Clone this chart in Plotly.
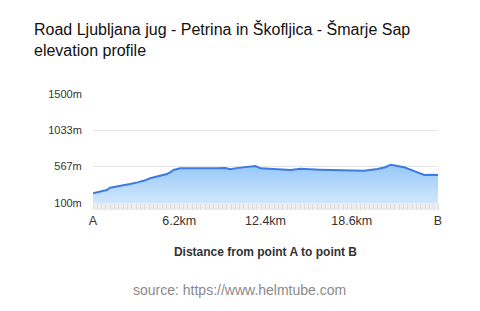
import plotly.graph_objects as go

# distance along the route (km) and elevation (m)
distance_km = [0.0, 0.4, 0.99, 1.23, 1.7, 2.2, 2.67, 3.2, 3.7, 4.11, 4.7, 5.31, 5.6, 5.79, 6.27,
               6.9, 7.48, 8.2, 8.9, 9.5, 9.88, 10.3, 11.08, 11.68, 12.04, 12.8, 13.5, 14.2,
               14.92, 15.6, 16.3, 17.09, 17.8, 18.6, 19.49, 20.45, 21.0, 21.41, 21.9, 22.37,
               23.1, 23.81, 24.3, 24.8]
elevation_m = [225, 240, 267, 296, 310, 327, 344, 365, 388, 417, 445, 472, 500, 524, 545,
               543, 545, 548, 546, 550, 535, 548, 558, 575, 545, 540, 532, 524,
               540, 530, 528, 524, 520, 520, 515, 537, 560, 592, 578, 558,
               510, 460, 463, 460]

ytick_vals = [100, 567, 1033, 1500]
ytick_text = ["100m", "567m", "1033m", "1500m"]
xtick_vals = [0, 6.2, 12.4, 18.6, 24.8]
xtick_text = ["A", "6.2km", "12.4km", "18.6km", "B"]

title_text = "Road Ljubljana jug - Petrina in Škofljica - Šmarje Sap<br>elevation profile"

fig = go.Figure()
fig.add_trace(go.Scatter(
    x=distance_km, y=elevation_m, mode="lines",
    line=dict(color="#3d7be3", width=2),
    fill="tozeroy",
    fillgradient=dict(type="vertical",
                      colorscale=[[0, "#dcedfd"], [1, "#96c8f8"]]),
    hoverinfo="skip",
))

fig.add_shape(type="rect", xref="paper", yref="paper", x0=0, x1=1, y0=-0.065, y1=0,
              fillcolor="#eeeeee", line=dict(width=0), layer="below")

fig.update_layout(
    width=480, height=311,
    margin=dict(l=93, r=42, t=94, b=108),
    paper_bgcolor="white", plot_bgcolor="white",
    font=dict(family="Liberation Sans, Arial, sans-serif", color="#333"),
    showlegend=False,
    xaxis=dict(range=[0, 24.8], tickvals=xtick_vals, ticktext=xtick_text,
               showgrid=False, zeroline=False, showline=False,
               ticks="outside", ticklen=6, tickcolor="#dddddd",
               minor=dict(ticks="outside", dtick=0.31, ticklen=6, tickcolor="#dddddd"),
               tickfont=dict(size=12.5, color="#333"),
               title=dict(text="<b>Distance from point A to point B</b>",
                          font=dict(size=12, color="#333"), standoff=20)),
    yaxis=dict(range=[100, 1500], tickvals=ytick_vals, ticktext=ytick_text,
               showgrid=True, gridcolor="#e6e6e6", gridwidth=1, zeroline=False,
               showline=False, tickfont=dict(size=11, color="#333"), ticklen=8,
               ticks="outside", tickcolor="white"),
)

fig.add_annotation(text=title_text, xref="paper", yref="paper",
                   x=-0.177, y=1.70, xanchor="left", yanchor="top", align="left",
                   showarrow=False, font=dict(size=16, color="#111"))

fig.add_annotation(text="source: https://www.helmtube.com", xref="paper", yref="paper",
                   x=0.426, y=-0.80, xanchor="center", yanchor="middle", showarrow=False,
                   font=dict(size=14, color="#8a8a8a"))

fig.write_html("out.html")
